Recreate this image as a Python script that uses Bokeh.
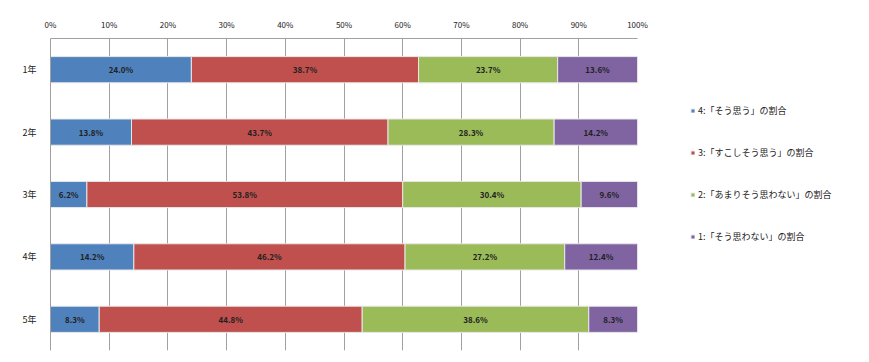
from bokeh.plotting import figure
from bokeh.models import ColumnDataSource, FactorRange, Range1d, FixedTicker, Legend, LegendItem
from bokeh.core.properties import value
from bokeh.embed import file_html
from bokeh.resources import INLINE

years = ["1年", "2年", "3年", "4年", "5年"]
s4 = [24.0, 13.8, 6.2, 14.2, 8.3]
s3 = [38.7, 43.7, 53.8, 46.2, 44.8]
s2 = [23.7, 28.3, 30.4, 27.2, 38.6]
s1 = [13.6, 14.2, 9.6, 12.4, 8.3]
series_names = ["4:「そう思う」の割合", "3:「すこしそう思う」の割合",
                "2:「あまりそう思わない」の割合", "1:「そう思わない」の割合"]
colors = ["#4F81BD", "#C0504D", "#9BBB59", "#8064A2"]
x_ticks = [0, 10, 20, 30, 40, 50, 60, 70, 80, 90, 100]

FONT = "Noto Sans CJK JP"
series = [s4, s3, s2, s1]
keys = ["s4", "s3", "s2", "s1"]

data = {"year": years}
for k, s in zip(keys, series):
    data[k] = s
source = ColumnDataSource(data)

p = figure(y_range=FactorRange(factors=list(reversed(years)), range_padding=0),
           x_range=Range1d(0, 100), x_axis_location="above",
           frame_width=587, frame_height=312, min_border_left=50, min_border_top=38,
           min_border_bottom=4, min_border_right=10,
           output_backend="svg", toolbar_location=None)

renderers = p.hbar_stack(keys, y="year", height=0.42, color=colors, source=source,
                         line_color="#e8e8e8", line_width=1)

# labels
lx, ly, lt = [], [], []
for i, y in enumerate(years):
    cum = 0
    for s in series:
        v = s[i]
        lx.append(cum + v / 2)
        ly.append(y)
        lt.append(f"{v:.1f}%")
        cum += v
p.text(x=lx, y=ly, text=lt, text_align="center", text_baseline="middle",
       text_font=value(FONT), text_font_size="8px", text_font_style="bold", text_color="#222222")

p.xaxis.ticker = FixedTicker(ticks=x_ticks)
p.xaxis.major_label_overrides = {t: f"{t}%" for t in x_ticks}
p.xaxis.major_label_text_font = FONT
p.xaxis.major_label_text_font_size = "8px"
p.xaxis.major_label_text_color = "#222222"
p.xaxis.axis_line_color = "#a0a0a0"
p.xaxis.major_tick_line_color = None
p.xaxis.minor_tick_line_color = None
p.xaxis.major_label_standoff = 3

p.yaxis.major_label_text_font = FONT
p.yaxis.major_label_text_font_size = "9px"
p.yaxis.major_label_text_color = "#222222"
p.yaxis.axis_line_color = "#a0a0a0"
p.yaxis.major_tick_line_color = None
p.yaxis.major_label_standoff = 8

p.xgrid.ticker = FixedTicker(ticks=x_ticks)
p.xgrid.grid_line_color = "#a0a0a0"
p.ygrid.grid_line_color = None
p.outline_line_color = None

legend = Legend(items=[LegendItem(label=n, renderers=[r]) for n, r in zip(series_names, renderers)],
                location=(53, 107))
legend.label_text_font = FONT
legend.label_text_font_size = "9px"
legend.label_text_color = "#222222"
legend.glyph_width = 5
legend.glyph_height = 5
legend.spacing = 29
legend.border_line_color = None
legend.label_standoff = 3
legend.padding = 0
legend.margin = 0
p.add_layout(legend, "right")

open("out.html", "w").write(file_html(p, INLINE))
